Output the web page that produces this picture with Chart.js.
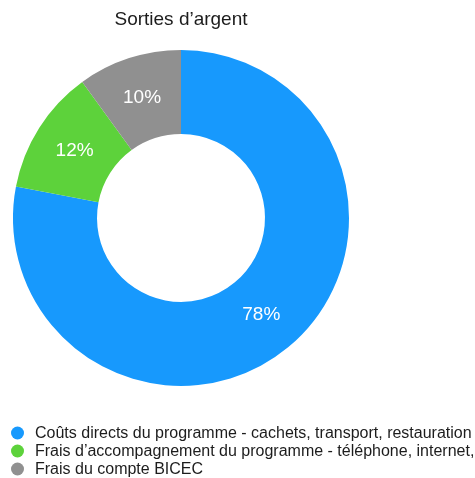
<!DOCTYPE html>
<html>
<head>
<meta charset="utf-8">
<script src="https://cdn.jsdelivr.net/npm/chart.js@4"></script>
<style>
  html, body { margin: 0; padding: 0; background: #fff; overflow: hidden; }
  #wrap { width: 475px; height: 478px; }
</style>
</head>
<body>
<div id="wrap"><canvas id="outflowChart" width="475" height="478"></canvas></div>
<script>
// Sorties d'argent - parts des dépenses
const categories = [
    'Coûts directs du programme - cachets, transport, restauration',
    'Frais d’accompagnement du programme - téléphone, internet,',
    'Frais du compte BICEC'
];
const shares = [78, 12, 10];
const sliceColors = ['#1799fd', '#5dd23b', '#909090'];

const FONT = '"Liberation Sans", Arial, Helvetica, sans-serif';

// percentage labels inside each slice
const sliceLabels = {
    id: 'sliceLabels',
    afterDatasetsDraw(chart) {
        const ctx = chart.ctx;
        const meta = chart.getDatasetMeta(0);
        ctx.save();
        ctx.fillStyle = '#ffffff';
        ctx.font = '19px ' + FONT;
        ctx.textAlign = 'center';
        ctx.textBaseline = 'middle';
        meta.data.forEach((arc, i) => {
            const pos = arc.tooltipPosition();
            ctx.fillText(shares[i] + '%', pos.x, pos.y);
        });
        ctx.restore();
    }
};

// legend drawn in the bottom padding, left aligned
const leftLegend = {
    id: 'leftLegend',
    afterDraw(chart) {
        const ctx = chart.ctx;
        ctx.save();
        ctx.font = '16px ' + FONT;
        ctx.textBaseline = 'middle';
        ctx.textAlign = 'left';
        categories.forEach((label, i) => {
            const y = 433 + i * 18;
            ctx.beginPath();
            ctx.fillStyle = sliceColors[i];
            ctx.arc(17.5, y, 6.5, 0, Math.PI * 2);
            ctx.fill();
            ctx.fillStyle = '#1c1c1c';
            ctx.fillText(label, 35, y + 0.5);
        });
        ctx.restore();
    }
};

document.addEventListener('DOMContentLoaded', function() {
    const ctx = document.getElementById('outflowChart').getContext('2d');
    new Chart(ctx, {
        type: 'doughnut',
        data: {
            labels: categories,
            datasets: [{
                data: shares,
                backgroundColor: sliceColors,
                borderWidth: 0
            }]
        },
        options: {
            responsive: false,
            animation: false,
            cutout: '50%',
            layout: {
                padding: { left: 13, right: 126, top: 0, bottom: 73 }
            },
            plugins: {
                legend: { display: false },
                tooltip: { enabled: false },
                title: {
                    display: true,
                    text: 'Sorties d’argent',
                    color: '#1c1c1c',
                    font: { family: FONT, size: 19, weight: 'normal' },
                    padding: { top: 8, bottom: 0 }
                }
            }
        },
        plugins: [sliceLabels, leftLegend]
    });
});
</script>
</body>
</html>
